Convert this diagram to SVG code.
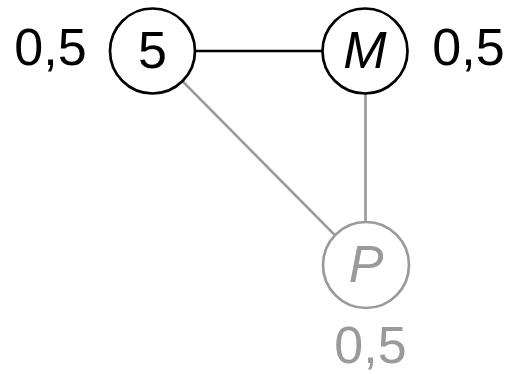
<svg xmlns="http://www.w3.org/2000/svg" width="511" height="374" viewBox="0 0 511 374">
<style>
.n{fill:#fff;stroke-width:2.7}
.t{font-family:"Liberation Sans",Arial,sans-serif;font-size:52px;text-anchor:middle}
.k{stroke:#000}
.g{stroke:#9a9a9a}
.tk{fill:#000}
.tg{fill:#9a9a9a}
</style>
<rect width="511" height="374" fill="#fff"/>
<g id="connectors" fill="none" stroke-width="2.7">
<line class="k" x1="195" y1="51" x2="322" y2="51"/>
<line class="g" x1="182.4" y1="81.1" x2="334.6" y2="234.9"/>
<line class="g" x1="365.5" y1="94" x2="365.5" y2="222"/>
</g>
<g id="node-5">
<circle class="n k" cx="152.5" cy="51" r="42.5"/>
<text class="t tk" x="152.5" y="68">5</text>
<text class="t tk" x="50.5" y="64.5">0,5</text>
</g>
<g id="node-M">
<circle class="n k" cx="365" cy="51" r="42.5"/>
<text class="t tk" x="365" y="68" font-style="italic">M</text>
<text class="t tk" x="468.5" y="64.5">0,5</text>
</g>
<g id="node-P">
<circle class="n g" cx="366" cy="265" r="43"/>
<text class="t tg" x="366" y="282" font-style="italic">P</text>
<text class="t tg" x="370.5" y="362.5">0,5</text>
</g>
</svg>
